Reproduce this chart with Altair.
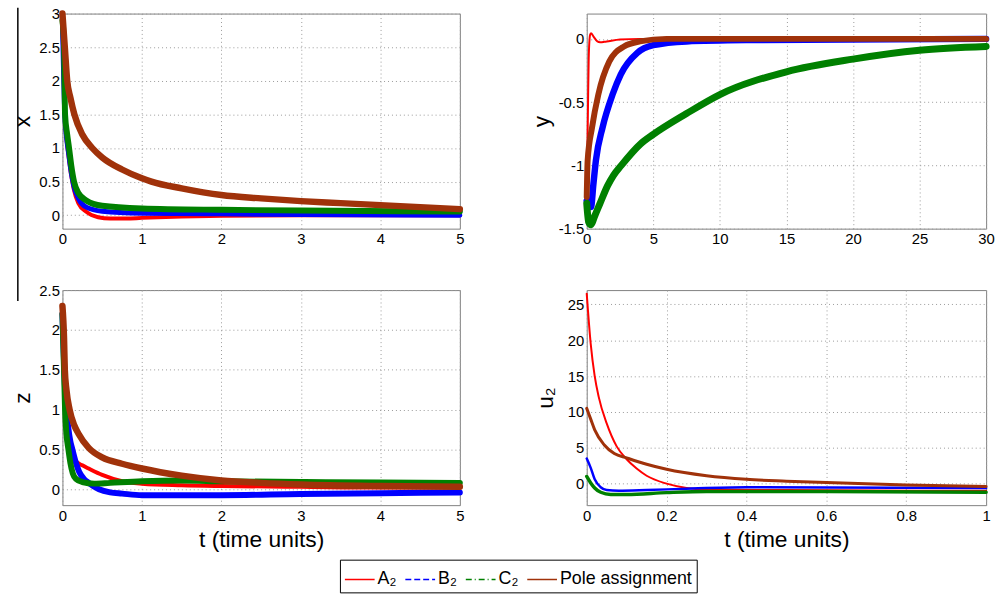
import altair as alt
import pandas as pd

SERIES = ["A₂", "B₂", "C₂", "Pole assignment"]
COLORS = ["#ff0000", "#0000ff", "#008000", "#a0320a"]
DASHES = [[1, 0], [6, 3], [6, 3, 1, 3], [1, 0]]

# ---------------- panel x(t) ----------------
x_t_A = [0, 0.03, 0.08, 0.14, 0.2, 0.3, 0.45, 0.6, 0.8, 1, 1.5, 2, 3, 5]
x_v_A = [2.9, 1.5, 0.85, 0.4, 0.18, 0.05, -0.03, -0.05, -0.05, -0.04, -0.02, -0.01, 0.0, 0.0]
x_t_B = [0, 0.03, 0.08, 0.14, 0.2, 0.3, 0.5, 1, 2, 3, 5]
x_v_B = [2.9, 1.5, 0.9, 0.45, 0.25, 0.12, 0.06, 0.03, 0.02, 0.01, 0.0]
x_t_C = [0, 0.02, 0.033, 0.06, 0.083, 0.11, 0.146, 0.2, 0.3, 0.5, 1, 2, 3, 5]
x_v_C = [2.9, 2.5, 1.5, 1.2, 1.0, 0.75, 0.5, 0.33, 0.22, 0.14, 0.1, 0.08, 0.07, 0.055]
x_t_P = [0, 0.03, 0.06, 0.1, 0.15, 0.25, 0.375, 0.5, 0.75, 1, 1.12, 1.5, 2, 2.5, 3, 3.5, 4, 4.5, 5]
x_v_P = [3.0, 2.5, 2.0, 1.75, 1.5, 1.2, 1.0, 0.86, 0.68, 0.55, 0.5, 0.4, 0.3, 0.25, 0.21, 0.18, 0.15, 0.12, 0.09]

# ---------------- panel y(t) ----------------
y_t_A = [0, 0.05, 0.1, 0.15, 0.25, 0.32, 0.5, 0.8, 1.0, 1.5, 2.5, 4, 30]
y_v_A = [-1.28, -0.9, -0.5, -0.15, 0.03, 0.045, 0.02, -0.02, -0.027, -0.02, -0.005, 0.0, 0.0]
y_t_B = [0, 0.32, 0.5, 0.69, 1.19, 1.94, 2.56, 3.8, 5, 7.5, 12, 30]
y_v_B = [-1.28, -1.33, -1.15, -0.96, -0.7, -0.44, -0.28, -0.11, -0.05, -0.02, -0.01, 0.0]
y_t_C = [0, 0.15, 0.3, 0.6, 1, 1.57, 2, 2.6, 4.05, 5, 7.5, 10, 15, 20, 25, 30]
y_v_C = [-1.3, -1.45, -1.47, -1.4, -1.3, -1.16, -1.08, -1.0, -0.83, -0.755, -0.59, -0.44, -0.26, -0.16, -0.09, -0.06]
y_t_P = [0, 0.07, 0.4, 0.87, 1.69, 2.8, 4, 6, 30]
y_v_P = [-1.25, -0.96, -0.7, -0.44, -0.18, -0.06, -0.02, 0.0, 0.0]

# ---------------- panel z(t) ----------------
z_t_A = [0, 0.02, 0.04, 0.07, 0.1, 0.13, 0.17, 0.25, 0.33, 0.5, 0.75, 1, 1.5, 2, 3, 4, 5]
z_v_A = [2.2, 1.6, 1.1, 0.75, 0.55, 0.42, 0.35, 0.3, 0.26, 0.18, 0.1, 0.07, 0.05, 0.04, 0.03, 0.02, 0.02]
z_t_B = [0, 0.02, 0.04, 0.07, 0.1, 0.125, 0.17, 0.21, 0.27, 0.33, 0.46, 0.6, 0.75, 1, 2, 3, 4, 5]
z_v_B = [2.2, 1.6, 1.1, 0.8, 0.6, 0.5, 0.33, 0.22, 0.13, 0.08, 0.0, -0.04, -0.055, -0.075, -0.075, -0.06, -0.05, -0.04]
z_t_C = [0, 0.02, 0.033, 0.05, 0.075, 0.1, 0.13, 0.17, 0.25, 0.4, 0.6, 1, 1.5, 2, 3, 4, 5]
z_v_C = [2.2, 1.5, 1.0, 0.7, 0.5, 0.33, 0.2, 0.13, 0.09, 0.07, 0.08, 0.1, 0.11, 0.1, 0.09, 0.085, 0.08]
z_t_P = [0, 0.02, 0.03, 0.05, 0.09, 0.15, 0.2, 0.33, 0.5, 0.75, 1, 1.5, 2, 2.5, 3, 4, 5]
z_v_P = [2.3, 1.9, 1.5, 1.25, 1.0, 0.8, 0.7, 0.52, 0.4, 0.32, 0.26, 0.17, 0.11, 0.08, 0.06, 0.04, 0.03]

# ---------------- panel u2(t) ----------------
u_t_A = [0, 0.01, 0.02, 0.03, 0.05, 0.075, 0.1, 0.125, 0.15, 0.2, 0.25, 0.3, 0.5, 1]
u_v_A = [26.5, 19.5, 15, 12.1, 8.4, 5.2, 3.4, 2.1, 1.1, 0.0, -0.6, -0.8, -0.9, -1.0]
u_t_B = [0, 0.01, 0.02, 0.035, 0.05, 0.08, 0.15, 0.25, 0.4, 0.6, 1]
u_v_B = [3.5, 2.2, 0.6, -0.5, -0.9, -1.0, -0.9, -0.7, -0.5, -0.55, -0.6]
u_t_C = [0, 0.01, 0.02, 0.035, 0.06, 0.1, 0.2, 0.3, 0.5, 1]
u_v_C = [1.0, 0.1, -0.6, -1.2, -1.5, -1.5, -1.25, -1.1, -1.1, -1.2]
u_t_P = [0, 0.01, 0.02, 0.044, 0.069, 0.1, 0.15, 0.2, 0.3, 0.4, 0.5, 0.6, 0.8, 1]
u_v_P = [10.5, 9.0, 7.5, 5.4, 4.2, 3.6, 2.7, 2.0, 1.1, 0.6, 0.35, 0.15, -0.2, -0.4]

FONT = "Liberation Sans"


def frame(pairs, widths):
    rows = []
    for name, col, (ts, vs), w in zip(SERIES, COLORS, pairs, widths):
        for t, v in zip(ts, vs):
            rows.append({"t": t, "v": v, "series": name, "col": col, "w": w})
    return pd.DataFrame(rows)


def panel(df, xdom, xticks, ydom, yticks, ytitle, title_x, w,
          xtitle=None, legend=False, extra=None):
    xenc = alt.X("t:Q", scale=alt.Scale(domain=xdom, nice=False, zero=False),
                 axis=alt.Axis(values=xticks, title=xtitle, titlePadding=6,
                               labelExpr="toString(datum.value)"))
    yenc = alt.Y("v:Q", scale=alt.Scale(domain=ydom, nice=False, zero=False),
                 axis=alt.Axis(values=yticks, title=ytitle, titleX=title_x,
                               titleAngle=270, titleBaseline="alphabetic",
                               labelExpr="toString(datum.value)"))
    base = alt.Chart(df)
    layers = []
    if legend:
        leg = alt.Legend(orient="none", legendX=280, legendY=551,
                         direction="horizontal", title=None)
        thin = base.mark_line(strokeWidth=1.2, interpolate="monotone").encode(
            x=xenc, y=yenc,
            color=alt.Color("series:N", scale=alt.Scale(domain=SERIES, range=COLORS), legend=leg),
            strokeDash=alt.StrokeDash("series:N", scale=alt.Scale(domain=SERIES, range=DASHES), legend=leg),
        )
        layers.append(thin)
    thick = base.mark_line(interpolate="monotone", strokeCap="round", strokeJoin="round").encode(
        x=xenc, y=yenc,
        color=alt.Color("col:N", scale=None),
        strokeWidth=alt.StrokeWidth("w:Q", scale=None),
        detail="series:N",
    )
    layers.append(thick)
    if extra is not None:
        layers.append(extra)
    return alt.layer(*layers).properties(width=w, height=217)


stray = alt.Chart(pd.DataFrame({"k": [0]})).mark_rule(color="black", strokeWidth=1.5).encode(
    x=alt.value(-45), y=alt.value(-6), y2=alt.value(290))

p_x = panel(frame([(x_t_A, x_v_A), (x_t_B, x_v_B), (x_t_C, x_v_C), (x_t_P, x_v_P)], [4, 5, 6, 6.5]),
            [0, 5], [0, 1, 2, 3, 4, 5], [-0.2, 3], [0, 0.5, 1, 1.5, 2, 2.5, 3], "x", -33, 401,
            extra=stray)
p_y = panel(frame([(y_t_A, y_v_A), (y_t_B, y_v_B), (y_t_C, y_v_C), (y_t_P, y_v_P)], [2, 6.5, 7, 6]),
            [0, 30], [0, 5, 10, 15, 20, 25, 30], [-1.5, 0.2], [-1.5, -1, -0.5, 0], "y", -39, 403)
p_z = panel(frame([(z_t_A, z_v_A), (z_t_B, z_v_B), (z_t_C, z_v_C), (z_t_P, z_v_P)], [4, 6, 6, 6.5]),
            [0, 5], [0, 1, 2, 3, 4, 5], [-0.2, 2.5], [0, 0.5, 1, 1.5, 2, 2.5], "z", -33, 401,
            xtitle="t (time units)", legend=True)
p_u = panel(frame([(u_t_A, u_v_A), (u_t_B, u_v_B), (u_t_C, u_v_C), (u_t_P, u_v_P)], [2, 2.5, 3.5, 3]),
            [0, 1], [0, 0.2, 0.4, 0.6, 0.8, 1], [-3, 27], [0, 5, 10, 15, 20, 25], "u₂", -35, 403,
            xtitle="t (time units)")

chart = alt.ConcatChart(
    concat=[p_x, p_y, p_z, p_u], columns=2,
    spacing=alt.RowColnumber(row=62, column=128), bounds="flush",
).properties(
    padding={"left": 11, "top": 3, "right": 5, "bottom": 5},
    background="white",
).configure_view(
    stroke="#7f7f7f", strokeWidth=1,
).configure_axis(
    grid=True, gridDash=[1, 3], gridColor="#9a9a9a", gridWidth=1,
    domain=False, ticks=False, labelFlush=False, labelOverlap=False,
    labelFont=FONT, labelFontSize=15, labelColor="black", labelPadding=3,
    titleFont=FONT, titleFontSize=23, titleColor="black", titleFontWeight="normal",
    titlePadding=0,
).configure_legend(
    labelFont=FONT, labelFontSize=18, labelColor="black",
    symbolType="stroke", symbolSize=900, symbolStrokeWidth=1.5,
    strokeColor="black", fillColor="white", padding=4, cornerRadius=0,
    columnPadding=6, labelOffset=2, symbolOpacity=1,
)

chart.save("out.html", embed_options={"renderer": "svg", "actions": False})
